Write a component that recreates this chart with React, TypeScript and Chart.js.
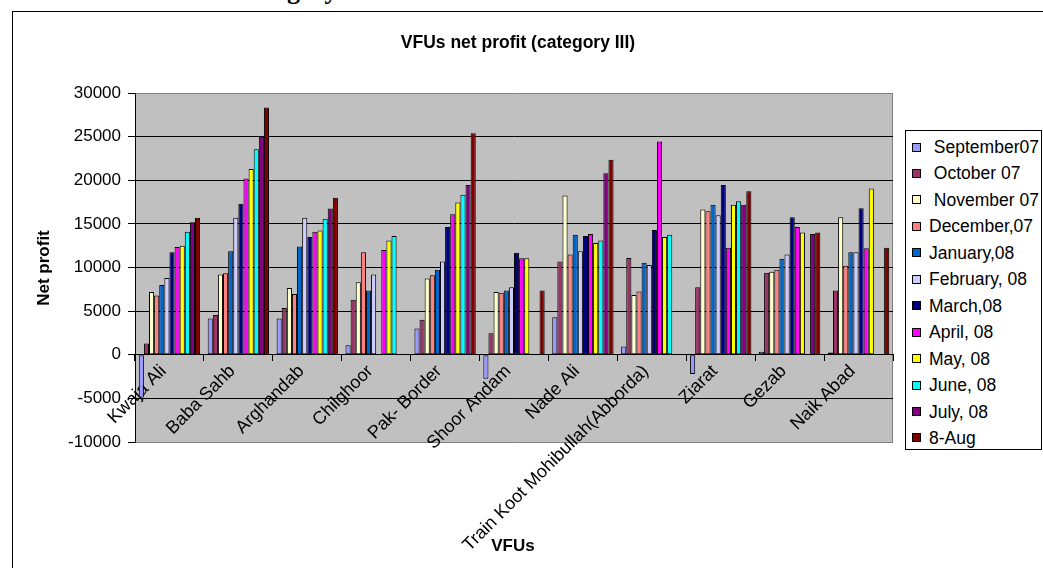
import React, { useEffect, useRef } from "react";
import { Chart, registerables } from "chart.js";

Chart.register(...registerables);

const categories = [
  "Kwaja Ali",
  "Baba Sahb",
  "Arghandab",
  "Chilghoor",
  "Pak- Border",
  "Shoor Andam",
  "Nade Ali",
  "Train Koot Mohibullah(Abborda)",
  "Ziarat",
  "Gezab",
  "Naik Abad",
];

const seriesNames = [
  " September07",
  " October 07",
  " November 07",
  "December,07",
  "January,08",
  "February, 08",
  "March,08",
  "April, 08",
  "May, 08",
  "June, 08",
  "July, 08",
  "8-Aug",
];

const seriesColors = [
  "#9999FF",
  "#993366",
  "#FFFFCC",
  "#FF8080",
  "#0066CC",
  "#CCCCFF",
  "#000080",
  "#FF00FF",
  "#FFFF00",
  "#00FFFF",
  "#800080",
  "#800000",
];

const sep07 = [-4900, 4150, 4150, 1100, 3000, -2750, 4300, 950, -2200, 350, 250];
const oct07 = [1300, 4550, 5350, 6300, 4000, 2450, 10700, 11100, 7750, 9400, 7350];
const nov07 = [7200, 9200, 7650, 8300, 8750, 7200, 18250, 6850, 16650, 9500, 15750];
const dec07 = [6800, 9350, 6950, 11750, 9100, 7100, 11500, 7250, 16450, 9750, 10200];
const jan08 = [8000, 11850, 12400, 7350, 9750, 7350, 13750, 10550, 17200, 11000, 11750];
const feb08 = [8800, 15700, 15700, 9200, 10700, 7750, 11850, 10300, 16000, 11500, 11750];
const mar08 = [11750, 17300, 13500, null, 14650, 11700, 13600, 14300, 19450, 15750, 16800];
const apr08 = [12350, 20200, 14100, 12000, 16100, 11050, 13850, 24450, 12250, 14650, 12200];
const may08 = [12500, 21300, 14250, 13100, 17450, 11050, 12800, 13500, 17200, 14000, 19050];
const jun08 = [14100, 23550, 15600, 13600, 18350, null, 13100, 13750, 17600, null, null];
const jul08 = [15200, 25000, 16750, null, 19450, null, 20800, null, 17200, 13850, null];
const aug08 = [15700, 28350, 18000, null, 25400, 7350, 22350, null, 18750, 14000, 12250];

const seriesValues = [sep07, oct07, nov07, dec07, jan08, feb08, mar08, apr08, may08, jun08, jul08, aug08];

const yMin = -10000;
const yMax = 30000;
const yStep = 5000;

const FONT = "'Liberation Sans', Arial, sans-serif";

const plotBg = {
  id: "plotBg",
  beforeDraw(chart: any) {
    const { ctx, chartArea: a } = chart;
    ctx.save();
    ctx.fillStyle = "#c0c0c0";
    ctx.fillRect(a.left, a.top, a.right - a.left, a.bottom - a.top);
    ctx.strokeStyle = "#808080";
    ctx.lineWidth = 1;
    ctx.beginPath();
    ctx.moveTo(Math.round(a.right) - 0.5, a.top);
    ctx.lineTo(Math.round(a.right) - 0.5, a.bottom);
    ctx.stroke();
    ctx.restore();
  },
};

export default function App() {
  const canvasRef = useRef<HTMLCanvasElement | null>(null);

  useEffect(() => {
    const canvas = canvasRef.current;
    if (!canvas) return;
    const chart = new Chart(canvas, {
      type: "bar",
      data: {
        labels: categories,
        datasets: seriesValues.map((vals, i) => ({
          label: seriesNames[i].trim(),
          data: vals,
          backgroundColor: seriesColors[i],
          borderColor: "#000000",
          borderWidth: 1,
          borderSkipped: false,
          categoryPercentage: 0.89,
          barPercentage: 1.0,
        })),
      },
      options: {
        responsive: false,
        animation: false,
        devicePixelRatio: 1,
        layout: { padding: { left: 12, top: 93, right: 150, bottom: 126 } },
        plugins: {
          legend: { display: false },
          tooltip: { enabled: false },
          title: { display: false },
        },
        scales: {
          x: {
            type: "category",
            position: { y: 0 } as any,
            offset: true,
            grid: {
              display: true,
              drawOnChartArea: false,
              drawTicks: true,
              tickLength: 6,
              color: "#000000",
              tickColor: "#000000",
              offset: true,
            },
            border: { display: true, color: "#000000", width: 1 },
            ticks: {
              autoSkip: false,
              maxRotation: 45,
              minRotation: 45,
              padding: 0,
              labelOffset: -6,
              color: "#000000",
              font: { family: FONT, size: 18 },
            },
            afterFit: (scale: any) => {
              scale.paddingLeft = 0;
              scale.paddingRight = 0;
              scale.paddingTop = 0;
              scale.paddingBottom = 0;
            },
          },
          y: {
            type: "linear",
            position: "left",
            min: yMin,
            max: yMax,
            grid: {
              color: (c: any) =>
                c.tick && (c.tick.value === yMax || c.tick.value === yMin) ? "#808080" : "#000000",
              tickColor: "#000000",
              tickLength: 7,
              lineWidth: 1,
            },
            border: { display: true, color: "#000000", width: 1 },
            ticks: {
              stepSize: yStep,
              padding: 7,
              color: "#000000",
              font: { family: FONT, size: 17 },
              callback: (v: any) => String(v),
            },
            afterFit: (scale: any) => {
              scale.width = 123;
            },
          },
        },
      },
      plugins: [plotBg],
    });
    return () => chart.destroy();
  }, []);

  const legendTop = 130;
  const itemStart = 147;
  const itemStep = 26.45;

  return (
    <div
      style={{
        position: "fixed",
        left: 0,
        top: 0,
        width: 1043,
        height: 568,
        overflow: "hidden",
        background: "#ffffff",
        fontFamily: FONT,
      }}
    >
      <div
        style={{
          position: "absolute",
          left: 235,
          top: -22,
          fontFamily: "'Liberation Serif', 'Times New Roman', serif",
          fontWeight: "bold",
          fontSize: 26,
          lineHeight: "26px",
          whiteSpace: "nowrap",
          color: "#000",
        }}
      >
        Category III
      </div>
      <div
        style={{
          position: "absolute",
          left: 12,
          top: 11,
          width: 1040,
          height: 570,
          border: "1px solid #000",
          boxSizing: "border-box",
        }}
      />
      <canvas
        ref={canvasRef}
        width={1043}
        height={568}
        style={{ position: "absolute", left: 0, top: 0, width: 1043, height: 568 }}
      />
      <div
        style={{
          position: "absolute",
          left: 318,
          width: 400,
          top: 31,
          textAlign: "center",
          fontWeight: "bold",
          fontSize: 17.5,
          lineHeight: "22px",
          color: "#000",
          whiteSpace: "nowrap",
        }}
      >
        VFUs net profit (category III)
      </div>
      <div
        style={{
          position: "absolute",
          left: 44 - 60,
          top: 268 - 11,
          width: 120,
          height: 22,
          lineHeight: "22px",
          textAlign: "center",
          fontWeight: "bold",
          fontSize: 17,
          color: "#000",
          transform: "rotate(-90deg)",
          whiteSpace: "nowrap",
        }}
      >
        Net profit
      </div>
      <div
        style={{
          position: "absolute",
          left: 513 - 50,
          top: 546 - 11,
          width: 100,
          lineHeight: "22px",
          textAlign: "center",
          fontWeight: "bold",
          fontSize: 17,
          color: "#000",
        }}
      >
        VFUs
      </div>
      <div
        style={{
          position: "absolute",
          left: 905,
          top: legendTop,
          width: 137,
          height: 320,
          border: "1px solid #000",
          boxSizing: "border-box",
          background: "#fff",
        }}
      />
      {seriesNames.map((name, i) => {
        const cy = itemStart + i * itemStep;
        return (
          <React.Fragment key={name}>
            <div
              style={{
                position: "absolute",
                left: 912,
                top: cy - 4.5,
                width: 9,
                height: 9,
                background: seriesColors[i],
                border: "1px solid #000",
                boxSizing: "border-box",
              }}
            />
            <div
              style={{
                position: "absolute",
                left: 929,
                top: cy - 11,
                height: 22,
                lineHeight: "22px",
                fontSize: 17.5,
                color: "#000",
                whiteSpace: "pre",
              }}
            >
              {name}
            </div>
          </React.Fragment>
        );
      })}
    </div>
  );
}
